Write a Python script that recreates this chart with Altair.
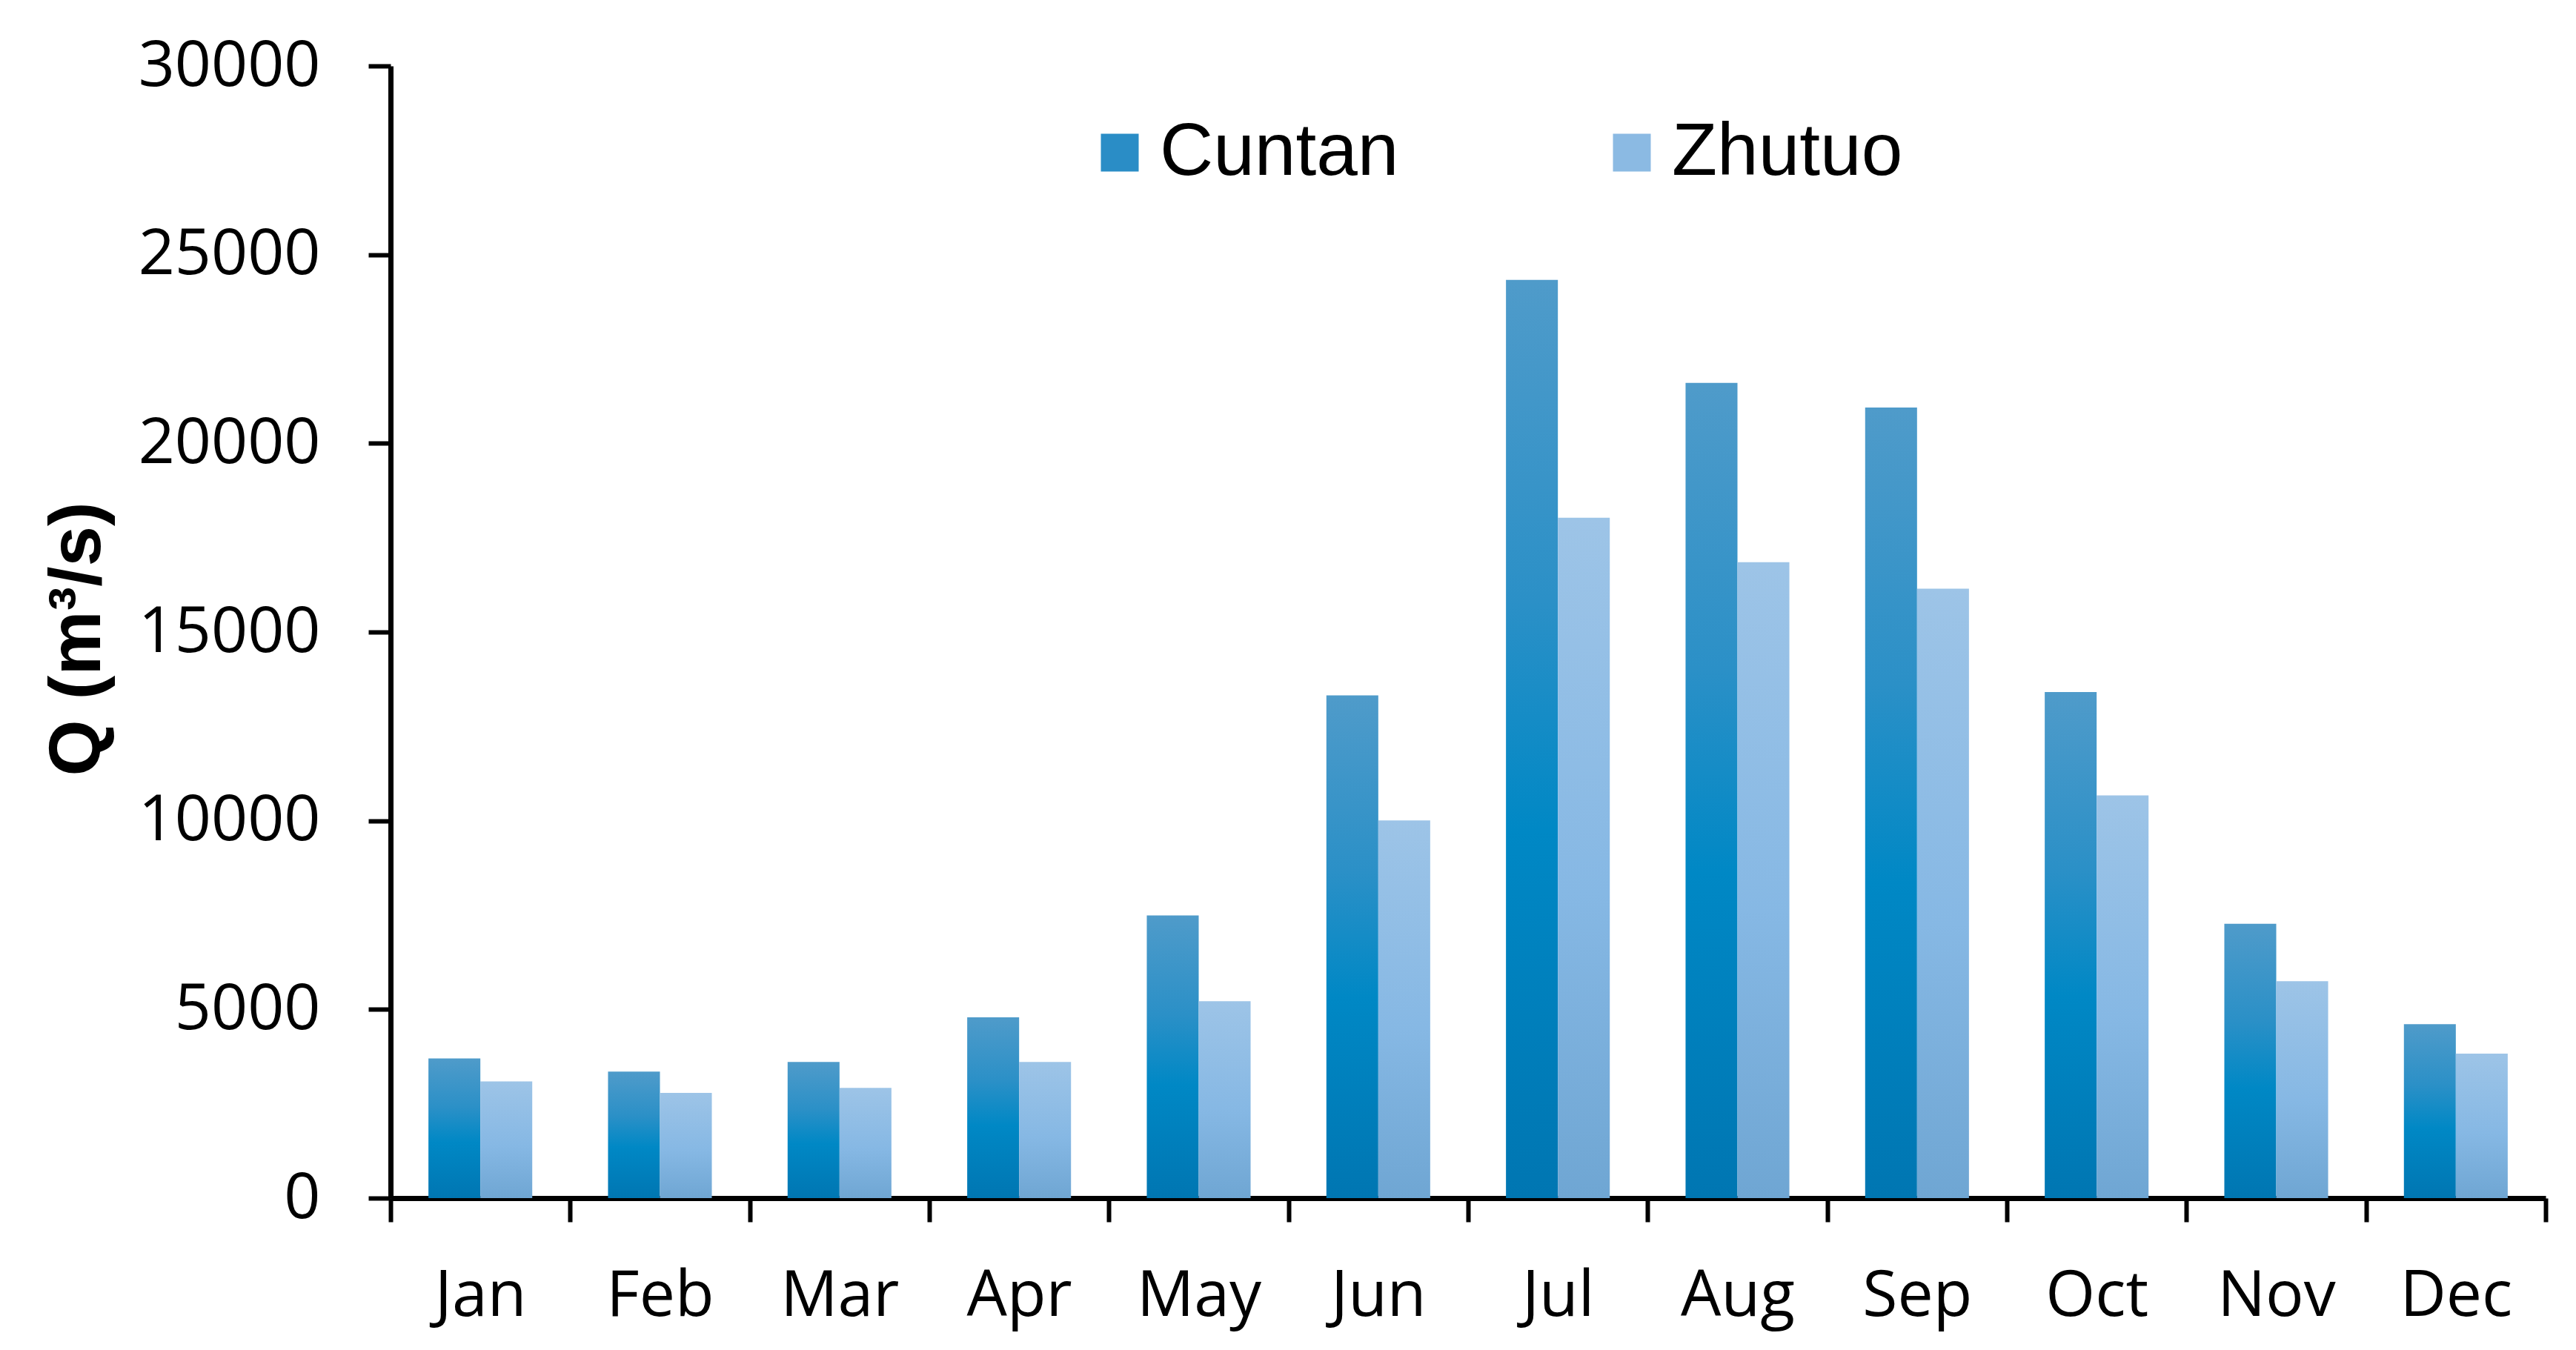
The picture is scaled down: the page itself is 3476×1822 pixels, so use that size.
import altair as alt
import pandas as pd

months = ["Jan", "Feb", "Mar", "Apr", "May", "Jun", "Jul", "Aug", "Sep", "Oct", "Nov", "Dec"]
series = ["Cuntan", "Zhutuo"]
cuntan = [3700, 3350, 3610, 4790, 7490, 13320, 24330, 21600, 20950, 13410, 7270, 4610]
zhutuo = [3090, 2790, 2920, 3610, 5220, 10010, 18030, 16850, 16150, 10670, 5750, 3830]
y_ticks = [0, 5000, 10000, 15000, 20000, 25000, 30000]
legend_colors = ["#2a8dc6", "#8bbae3"]

rows = []
for m, c, z in zip(months, cuntan, zhutuo):
    rows.append({"month": m, "series": "Cuntan", "value": c})
    rows.append({"month": m, "series": "Zhutuo", "value": z})
df = pd.DataFrame(rows)

grad_cuntan = alt.LinearGradient(
    gradient="linear", x1=0, x2=0, y1=0, y2=1,
    stops=[alt.GradientStop(color="#4f9bca", offset=0),
           alt.GradientStop(color="#2b90c7", offset=0.35),
           alt.GradientStop(color="#0088c5", offset=0.6),
           alt.GradientStop(color="#0076b2", offset=1)])
grad_zhutuo = alt.LinearGradient(
    gradient="linear", x1=0, x2=0, y1=0, y2=1,
    stops=[alt.GradientStop(color="#9dc4e7", offset=0),
           alt.GradientStop(color="#86b8e4", offset=0.55),
           alt.GradientStop(color="#6fa6d3", offset=1)])

x_enc = alt.X("month:N", sort=months, title=None,
              scale=alt.Scale(domain=months, paddingInner=0, paddingOuter=0),
              axis=alt.Axis(domainColor="black", domainWidth=7, tickColor="black",
                            tickWidth=6, tickSize=32, tickBand="extent",
                            labelFont="Open Sans", labelFontSize=86, labelColor="black",
                            labelAngle=0, labelBaseline="alphabetic", labelPadding=126,
                            labelLimit=0, grid=False))
xo_enc = alt.XOffset("series:N", scale=alt.Scale(domain=series, paddingInner=0, paddingOuter=0.73))
y_enc = alt.Y("value:Q", title="Q (m³/s)",
              scale=alt.Scale(domain=[0, 30000], nice=False),
              axis=alt.Axis(values=y_ticks, format="d", domainColor="black", domainWidth=7,
                            tickColor="black", tickWidth=6, tickSize=30,
                            labelFont="Open Sans", labelFontSize=86, labelColor="black",
                            labelPadding=65, labelLimit=0, grid=False,
                            titleFont="Liberation Sans", titleFontWeight="bold",
                            titleFontSize=98, titleColor="black",
                            titleX=-372, titleY=773))

base = alt.Chart(df)
bars_c = base.transform_filter(alt.datum.series == "Cuntan").mark_bar(color=grad_cuntan).encode(
    x=x_enc, xOffset=xo_enc, y=y_enc)
bars_z = base.transform_filter(alt.datum.series == "Zhutuo").mark_bar(color=grad_zhutuo).encode(
    x=x_enc, xOffset=xo_enc, y=y_enc)
legend_layer = base.mark_bar(opacity=0).encode(
    x=x_enc, xOffset=xo_enc, y=y_enc,
    color=alt.Color("series:N", scale=alt.Scale(domain=series, range=legend_colors),
                    legend=alt.Legend(orient="none", legendX=934, legendY=67,
                                      direction="horizontal", columns=2, title=None,
                                      symbolType="square", symbolSize=2601,
                                      symbolStrokeWidth=0, symbolOpacity=1,
                                      labelFont="Liberation Sans", labelFontSize=100,
                                      labelColor="black", labelOffset=4, labelLimit=0,
                                      columnPadding=264, padding=0)))

chart = alt.layer(bars_c, bars_z, legend_layer).properties(
    width=2908, height=1528,
    padding={"left": 519, "top": 81, "right": 33, "bottom": 197},
    autosize=alt.AutoSizeParams(type="none"),
    background="white",
).configure_view(stroke=None)

chart.save("out.html", embed_options={"renderer": "svg", "actions": False})
